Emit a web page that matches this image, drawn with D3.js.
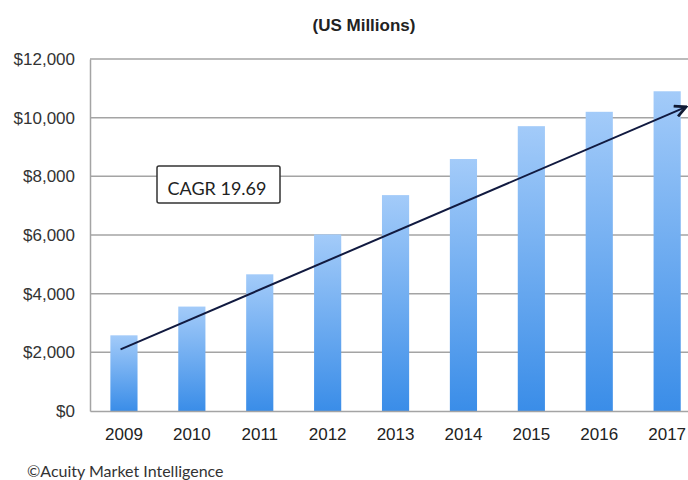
<!DOCTYPE html>
<html><head><meta charset="utf-8">
<script src="https://cdn.jsdelivr.net/npm/d3@7"></script>
<style>body{margin:0;background:#fff;overflow:hidden}</style>
</head><body>
<svg id="c" width="688" height="480"></svg>
<script>
const years = ["2009","2010","2011","2012","2013","2014","2015","2016","2017"];
const revenue = [2580, 3560, 4660, 6020, 7360, 8590, 9710, 10200, 10900];
const yTicks = [0, 2000, 4000, 6000, 8000, 10000, 12000];
const arrowFrom = {idx: -0.05, value: 2100};
const arrowTo = {idx: 8.28, value: 10370};
const cagrLabel = "CAGR 19.69";
const title = "(US Millions)";
const source = "©Acuity Market Intelligence";

const svg = d3.select("#c");
const L = 90, T = 59, B = 411;
const step = 67.9;
const R = L + step * years.length;
const AF = "Liberation Sans, Arial, sans-serif";

const x = d3.scaleBand().domain(years).range([L, R]).paddingInner(0.6).paddingOuter(0.3);
const y = d3.scaleLinear().domain([0, 12000]).range([B, T]);
const xi = d3.scaleLinear().domain([0, 1]).range([x(years[0]) + x.bandwidth()/2, x(years[1]) + x.bandwidth()/2]);

const defs = svg.append("defs");
const g = defs.append("linearGradient").attr("id","bg").attr("x1",0).attr("y1",0).attr("x2",0).attr("y2",1);
g.append("stop").attr("offset","0%").attr("stop-color","#a3cbf9");
g.append("stop").attr("offset","100%").attr("stop-color","#3a8de8");
defs.append("marker").attr("id","ah").attr("viewBox","0 0 10 10").attr("refX",9).attr("refY",5)
  .attr("orient","auto").attr("markerUnits","userSpaceOnUse")
  .attr("markerWidth",14).attr("markerHeight",14)
  .append("path").attr("d","M1,1 L9,5 L1,9").attr("fill","none").attr("stroke","#111a33").attr("stroke-width",2);

// title
svg.append("text").attr("x",364).attr("y",31).attr("text-anchor","middle")
  .attr("font-family",AF).attr("font-weight","bold").attr("font-size",17)
  .attr("fill","#222").text(title);

// gridlines
svg.append("g").selectAll("line").data(yTicks.filter(d=>d>0)).join("line")
  .attr("x1",L).attr("x2",R).attr("y1",d=>y(d)).attr("y2",d=>y(d))
  .attr("stroke","#a4a4a4").attr("stroke-width",1.5);

// y axis
const ya = svg.append("g").attr("transform",`translate(${L},0)`)
  .call(d3.axisLeft(y).tickValues(yTicks).tickSize(0).tickPadding(15).tickFormat(d=>"$"+d3.format(",")(d)));
ya.select(".domain").attr("stroke","#a4a4a4").attr("stroke-width",1.5);
ya.selectAll("text").attr("font-family",AF).attr("font-size",17).attr("fill","#333");

// bars
svg.append("g").selectAll("rect").data(years).join("rect")
  .attr("x",d=>x(d)).attr("width",x.bandwidth())
  .attr("y",(d,i)=>y(revenue[i])).attr("height",(d,i)=>B - y(revenue[i]))
  .attr("fill","url(#bg)");

// x axis
const xa = svg.append("g").attr("transform",`translate(0,${B})`)
  .call(d3.axisBottom(x).tickSize(0).tickPadding(0));
xa.select(".domain").attr("stroke","#a4a4a4").attr("stroke-width",1.5);
xa.selectAll("text").attr("dy",null).attr("y",29).attr("font-family",AF).attr("font-size",17).attr("fill","#222");

// arrow
svg.append("line")
  .attr("x1",xi(arrowFrom.idx)).attr("y1",y(arrowFrom.value))
  .attr("x2",xi(arrowTo.idx)).attr("y2",y(arrowTo.value))
  .attr("stroke","#111a40").attr("stroke-width",2).attr("marker-end","url(#ah)");

// CAGR box
svg.append("rect").attr("x",157).attr("y",166).attr("width",123).attr("height",37).attr("rx",2)
  .attr("fill","#fff").attr("stroke","#333").attr("stroke-width",1.5);
svg.append("text").attr("x",217).attr("y",195).attr("text-anchor","middle")
  .attr("font-family","Lato, Open Sans, sans-serif").attr("font-size",18).attr("fill","#222").text(cagrLabel);

// source
svg.append("text").attr("x",27).attr("y",477)
  .attr("font-family","Lato, Open Sans, sans-serif").attr("font-size",16).attr("fill","#333").text(source);
</script>
</body></html>
